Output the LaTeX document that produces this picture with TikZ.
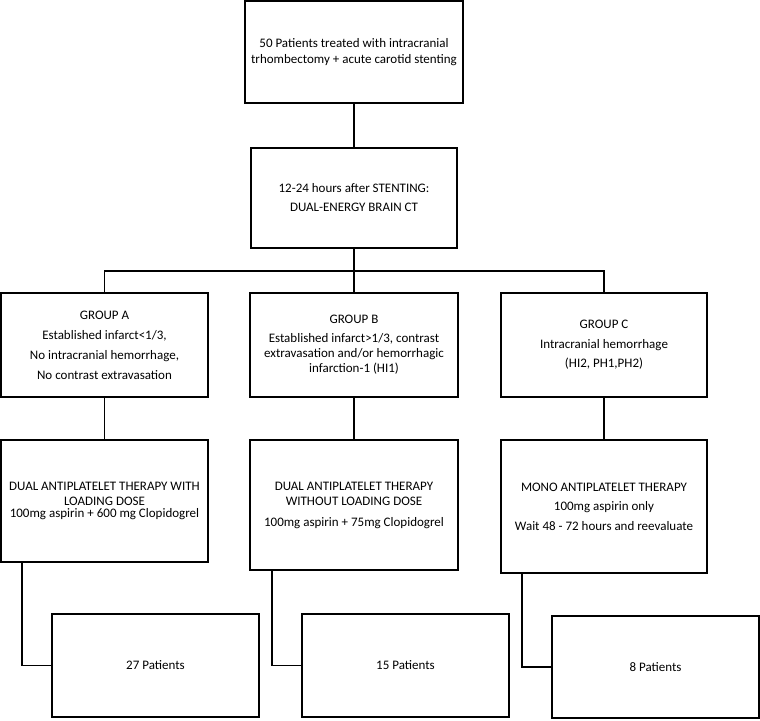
\documentclass[tikz,border=0pt]{standalone}
\usepackage{fontspec}
\setmainfont{Carlito}
\begin{document}
\begin{tikzpicture}[x=1pt,y=-1pt,
  box/.style={draw=black,line width=1.6pt,align=center,inner sep=0pt,
    font=\fontsize{13}{15}\selectfont},
  link/.style={draw=black,line width=1.6pt}]
\useasboundingbox (0,0) rectangle (760,720);
\node[box,minimum width=218,minimum height=102] (top) at (354,52)
  {50 Patients treated with intracranial\\[1pt]trhombectomy + acute carotid stenting};
\node[box,minimum width=206,minimum height=100] (ct) at (354,198)
  {12-24 hours after STENTING:\\[4pt]DUAL-ENERGY BRAIN CT};
\node[box,minimum width=207,minimum height=104] (gA) at (104.5,345)
  {GROUP A\\[5pt]Established infarct<1/3,\\[5pt]No intracranial hemorrhage,\\[5pt]No contrast extravasation};
\node[box,minimum width=208,minimum height=104] (gB) at (354,345)
  {GROUP B\\[4pt]Established infarct>1/3, contrast\\extravasation and/or hemorrhagic\\infarction-1 (HI1)};
\node[box,minimum width=206,minimum height=104] (gC) at (604,345)
  {GROUP C\\[4.5pt]Intracranial hemorrhage\\[4.5pt](HI2, PH1,PH2)};
\node[box,minimum width=207,minimum height=122] (tA) at (104.5,501)
  {DUAL ANTIPLATELET THERAPY WITH\\LOADING DOSE\\[-3.5pt]100mg aspirin + 600 mg Clopidogrel};
\node[box,minimum width=208,minimum height=130] (tB) at (354,505)
  {DUAL ANTIPLATELET THERAPY\\WITHOUT LOADING DOSE\\[6pt]100mg aspirin + 75mg Clopidogrel};
\node[box,minimum width=206,minimum height=133] (tC) at (604,506.5)
  {MONO ANTIPLATELET THERAPY\\[4.5pt]100mg aspirin only\\[4.5pt]Wait 48 - 72 hours and reevaluate};
\node[box,minimum width=207,minimum height=103] (pA) at (155.5,665.5) {27 Patients};
\node[box,minimum width=207,minimum height=103] (pB) at (405.5,665.5) {15 Patients};
\node[box,minimum width=207,minimum height=102] (pC) at (655.5,667) {8 Patients};
\coordinate (ea) at (22,0);
\coordinate (eb) at (272,0);
\coordinate (ec) at (522,0);
\draw[link] (top.south) -- (ct.north);
\draw[link] (ct.south) -- (gB.north);
\draw[link] (gA.north) -- ++(0,-21) -| (gC.north);
\draw[link] (gA.south) -- (tA.north);
\draw[link] (gB.south) -- (tB.north);
\draw[link] (gC.south) -- (tC.north);
\draw[link] (tA.south -| ea) |- (pA.west);
\draw[link] (tB.south -| eb) |- (pB.west);
\draw[link] (tC.south -| ec) |- (pC.west);
\end{tikzpicture}
\end{document}
